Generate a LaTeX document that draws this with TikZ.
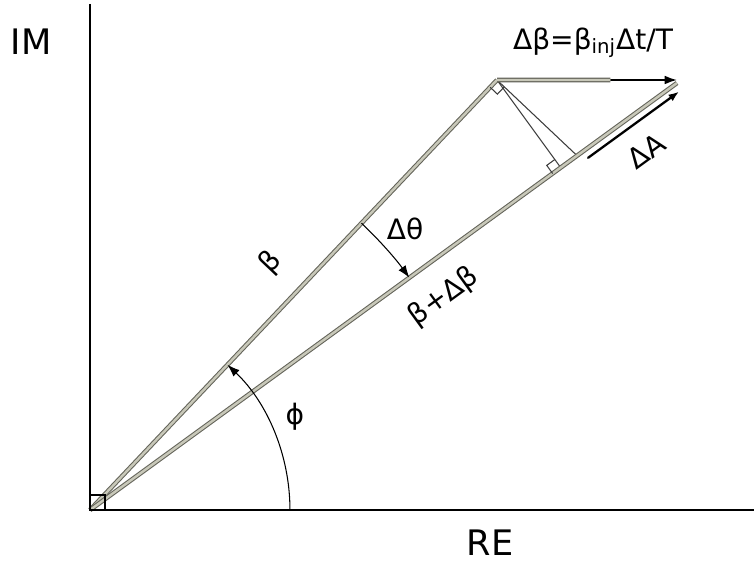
\documentclass[tikz,border=0pt]{standalone}
\usepackage{fontspec}
\setmainfont{DejaVu Sans}
\usetikzlibrary{arrows.meta,calc}
\definecolor{vecdark}{RGB}{100,100,90}
\definecolor{veclight}{RGB}{200,200,185}
\definecolor{perpgray}{RGB}{60,60,60}

\tikzset{
  vector/.style={draw=vecdark, double=veclight, line width=0.6pt, double distance=1.4pt},
  axis/.style={line width=1.1pt},
  thinline/.style={draw=perpgray, line width=0.6pt},
  anglearrow/.style={->, line width=0.6pt},
  lbl/.style={font=\fontsize{16}{19}\selectfont},
  axlbl/.style={font=\fontsize{20}{24}\selectfont}
}

\begin{document}
\begin{tikzpicture}[>={Latex[length=7pt,width=5pt]}, x=0.02cm, y=0.02cm]
\useasboundingbox (0,0) rectangle (754,562);

% axes
\coordinate (O) at (90,52);
\coordinate (imtop) at (90,558);
\coordinate (reend) at (754,52);
\draw[axis] (imtop) -- (O) -- (reend);
\node[axlbl] (im) at (31,520) {IM};
\node[axlbl] (re) at (490,19) {RE};

% vectors
\coordinate (B) at (497,482);
\coordinate (C) at (677,479);
\coordinate (D) at (677,482);
\coordinate (P) at ($(O)!(B)!(C)$);
\coordinate (Bn) at ($(B)!1cm!90:(O)$);
\coordinate (Q) at (intersection of B--Bn and O--C);

\draw[thinline] (B) -- (P);
\draw[thinline] (B) -- (Q);
\draw[vector] (O) -- (B);
\draw[vector] (O) -- (C);
\draw[->, line width=1pt] (B) -- (D);
\draw[vector] (B) -- ($(B)!0.63!(D)$);
\draw[line width=0.9pt] (O) rectangle ++(15,15);

% right angles
\coordinate (b1) at ($(B)!0.2cm!(O)$);
\coordinate (b2) at ($(B)!0.2cm!(Q)$);
\draw[thinline] (b1) -- ($(b1)+(b2)-(B)$) -- (b2);
\coordinate (p1) at ($(P)!0.2cm!(O)$);
\coordinate (p2) at ($(P)!0.2cm!(B)$);
\draw[thinline] (p1) -- ($(p1)+(p2)-(P)$) -- (p2);

% angles
\draw[anglearrow] ($(O)+(0:4cm)$) arc[start angle=0, end angle=46.57, radius=4cm];
\draw[anglearrow] ($(O)+(46.57:7.9cm)$) arc[start angle=46.57, end angle=36.03, radius=7.9cm];

% delta A
\coordinate (a1) at ($(O)!0.84!(C)+(5,-6.5)$);
\coordinate (a2) at ($(O)!0.995!(C)+(5,-6.5)$);
\draw[-{Latex[length=6pt,width=4.5pt]}, line width=1.3pt, line cap=round] (a1) -- (a2);

% labels
\node[lbl, rotate=46.6] (betalbl) at (271,299) {β};
\node[lbl, rotate=36] (sumlbl) at (444,265) {β+Δβ};
\node[lbl] (dthetalbl) at (405,333) {Δθ};
\node[lbl] (philbl) at (295,145) {ϕ};
\node[lbl, rotate=36] (dalbl) at (646,411) {ΔA};
\node[lbl] (dbetalbl) at (593,519) {Δβ=β\textsubscript{inj}Δt/T};
\end{tikzpicture}
\end{document}
